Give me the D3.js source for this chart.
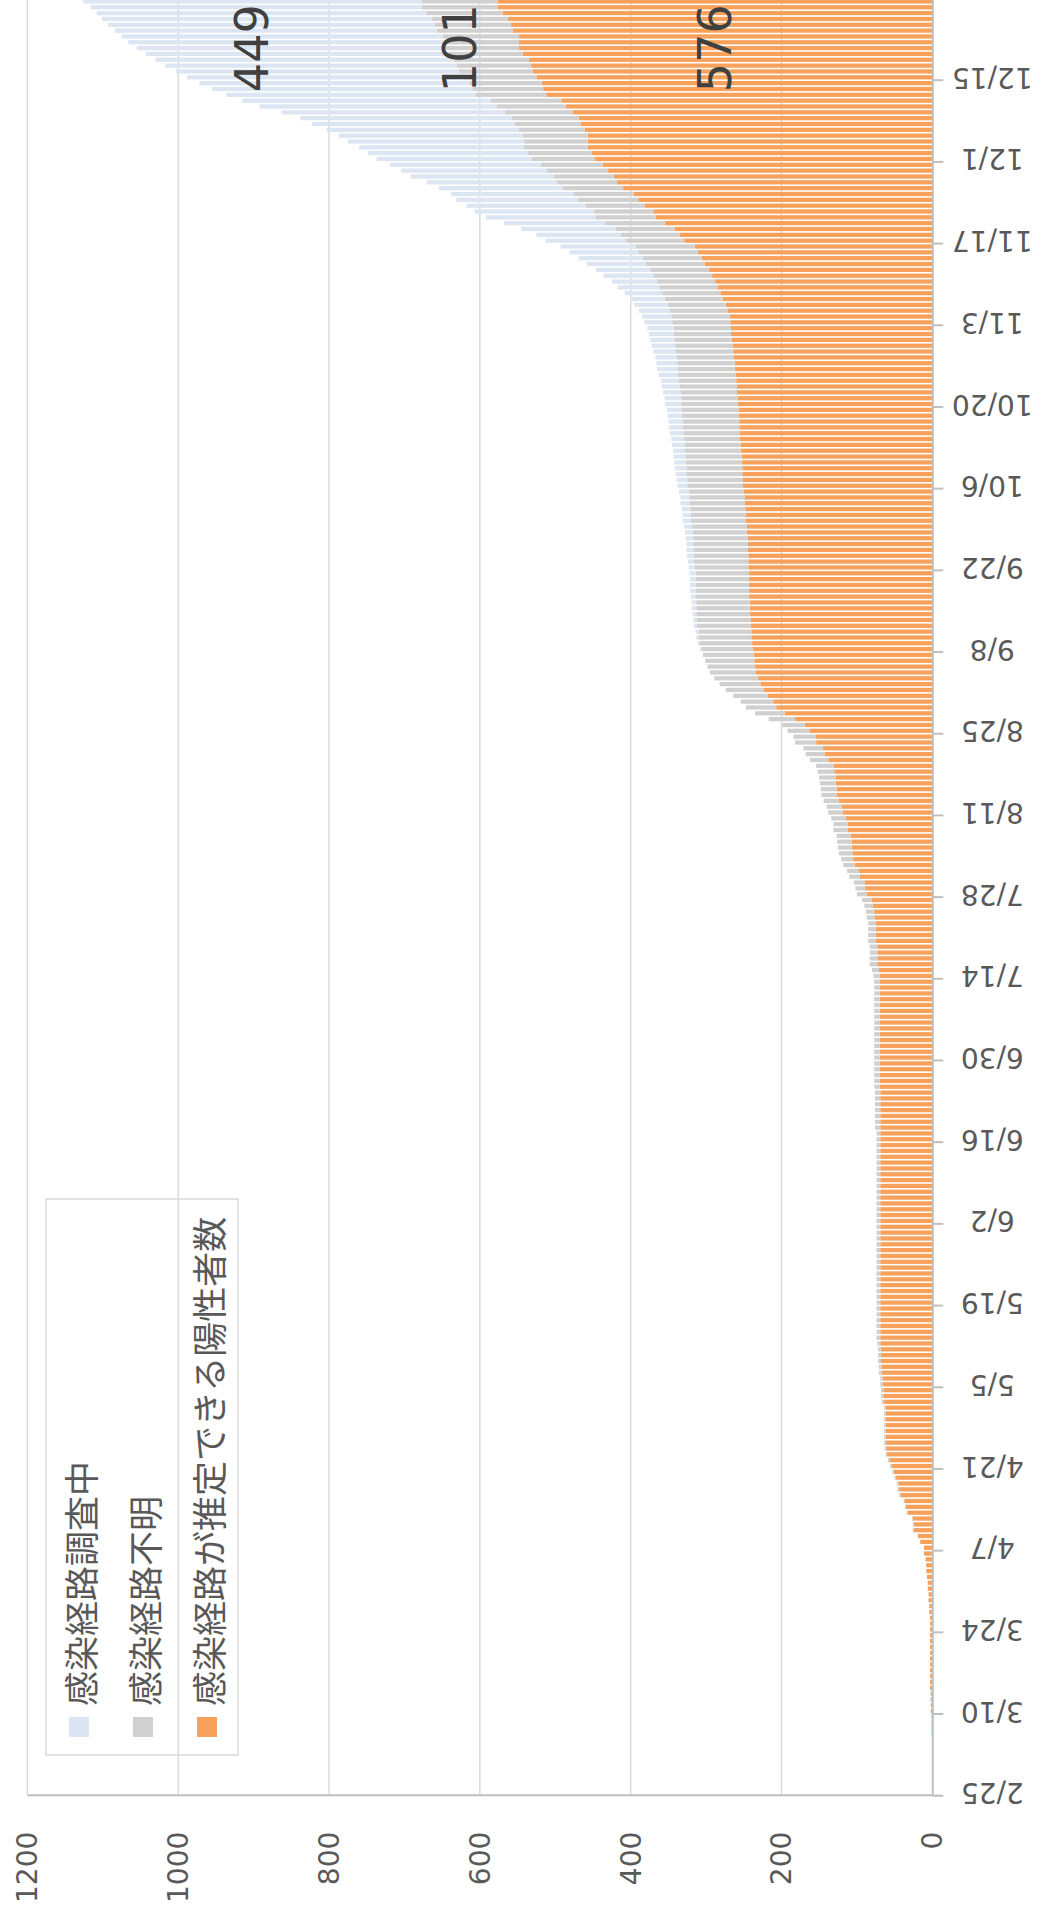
<!DOCTYPE html>
<html>
<head>
<meta charset="utf-8">
<script src="https://cdn.jsdelivr.net/npm/d3@7"></script>
<style>
  body { margin: 0; background: #fff; }
  svg { display: block; }
</style>
</head>
<body>
<svg id="chart"></svg>
<script>
// daily bars from 2/25 to 12/28, one row = two weeks
const firstDay = new Date(2020, 1, 25);
const dayAfterLast = new Date(2020, 11, 29);

const tickLabels = ["2/25", "3/10", "3/24", "4/7", "4/21", "5/5", "5/19", "6/2", "6/16", "6/30", "7/14",
                    "7/28", "8/11", "8/25", "9/8", "9/22", "10/6", "10/20", "11/3", "11/17", "12/1", "12/15"];
const valueTicks = [0, 200, 400, 600, 800, 1000, 1200];

// 感染経路が推定できる陽性者数
const estimated = [
  0,0,0,0,0,0,0,0,0,0,1,1,1,1,
  2,2,2,2,3,3,3,3,3,3,3,3,3,3,
  3,3,3,4,4,5,5,6,6,7,8,8,9,11,
  11,16,19,25,25,26,33,35,37,42,44,45,48,51,
  54,57,60,61,62,62,62,62,62,62,62,64,65,65,
  66,66,67,67,68,68,68,69,69,69,69,69,69,69,
  69,69,69,69,69,69,69,69,69,69,69,69,69,69,
  69,69,69,69,69,69,69,69,69,69,69,69,69,69,
  69,69,69,69,69,69,69,69,69,70,70,70,70,70,
  70,70,70,70,70,70,70,70,70,70,70,70,70,70,
  70,71,73,73,73,73,75,75,75,75,76,77,79,80,
  87,89,90,96,98,103,105,106,107,107,108,112,112,115,
  119,120,124,127,127,128,128,130,131,138,143,145,154,155,
  163,169,182,196,207,211,218,224,228,231,234,235,236,237,
  238,239,240,240,241,241,242,242,242,243,243,243,243,243,
  244,244,244,245,245,245,246,246,247,247,248,249,249,250,
  251,251,252,252,253,253,254,254,255,255,256,256,257,257,
  258,258,259,259,260,261,262,262,263,264,265,266,267,267,
  268,269,271,274,278,281,285,288,292,296,302,306,311,315,
  329,335,342,355,367,370,381,390,396,410,418,422,430,437,
  448,452,457,457,457,461,466,469,477,486,492,512,516,518,
  525,530,532,535,543,548,548,548,556,559,563,570,576,576
];

// 感染経路不明
const unknownRoute = [
  0,0,0,0,0,0,0,0,0,0,0,0,0,0,
  0,0,0,0,0,0,0,0,0,0,0,0,0,0,
  0,0,0,0,0,0,0,0,0,0,0,0,0,0,
  0,0,0,1,1,1,1,1,1,2,2,2,2,2,
  2,2,2,2,2,2,2,2,2,2,2,3,3,3,
  3,3,4,4,4,4,4,4,5,5,5,5,5,5,
  5,5,5,5,5,5,5,5,5,5,5,5,5,5,
  5,5,5,5,5,5,5,5,5,5,5,5,5,5,
  5,5,7,7,7,7,7,7,7,7,7,7,7,7,
  7,7,7,7,7,7,7,7,7,7,7,7,7,7,
  8,9,10,10,10,10,10,10,10,10,11,11,11,13,
  13,13,14,14,15,15,16,18,18,19,19,19,19,19,
  19,20,20,20,21,21,22,22,23,24,25,26,28,29,
  29,30,35,39,40,43,46,50,54,58,61,63,65,67,
  68,69,70,70,71,71,71,71,71,71,71,71,71,71,
  71,72,72,72,72,72,72,73,73,73,73,73,73,73,
  74,74,74,74,74,74,74,74,74,75,75,75,75,75,
  75,75,75,76,76,76,76,76,76,76,76,76,76,76,
  77,77,77,77,77,77,77,77,78,78,78,78,78,78,
  78,78,78,79,79,79,79,80,80,80,80,80,81,82,
  83,84,85,85,86,87,88,89,90,92,94,94,94,96,
  96,98,99,99,99,100,100,101,101,101,101,101,101,101
];

// 感染経路調査中
const investigating = [
  0,0,0,0,0,0,0,0,0,0,0,0,0,0,
  0,0,0,0,0,0,0,0,0,0,0,0,0,0,
  0,0,0,0,0,0,0,0,0,0,0,0,0,0,
  0,0,0,0,0,0,0,0,0,0,0,0,0,0,
  0,0,0,0,0,0,0,0,0,0,0,0,0,0,
  0,0,0,0,0,0,0,0,0,0,0,0,0,0,
  0,0,0,0,0,0,0,0,0,0,0,0,0,0,
  0,0,0,0,0,0,0,0,0,0,0,0,0,0,
  0,0,0,0,0,0,0,0,0,0,0,0,0,0,
  0,0,0,0,0,0,0,0,0,0,0,0,0,0,
  0,0,0,0,0,0,0,0,0,0,0,0,0,0,
  0,0,0,0,0,0,0,0,0,0,0,0,0,0,
  0,0,0,0,0,0,0,0,0,0,0,0,0,0,
  0,0,0,0,0,0,0,0,0,0,0,0,0,0,
  2,3,3,4,4,5,5,6,6,6,7,7,7,8,
  8,8,9,9,9,10,10,10,11,11,11,12,12,13,
  13,14,14,15,15,16,16,17,17,18,18,19,19,20,
  21,22,23,24,24,26,27,28,28,30,31,32,33,35,
  37,39,41,44,46,50,55,60,66,72,78,85,92,100,
  106,112,125,134,146,158,158,161,162,164,172,190,193,200,
  206,212,218,233,244,255,269,280,296,314,329,330,345,358,
  367,375,386,396,401,407,418,426,427,433,437,437,439,449
];

const seriesKeys = ["estimated", "unknown", "investigating"];
const seriesNames = {
  estimated: "感染経路が推定できる陽性者数",
  unknown: "感染経路不明",
  investigating: "感染経路調査中"
};
const color = d3.scaleOrdinal()
  .domain(seriesKeys)
  .range(["#f8a15b", "#d0d0d0", "#dce5f2"]);

// the chart is laid out the normal way (dates across, counts up)
// and then the whole thing is turned a quarter turn to the left
const W = 1919, H = 1050;
const plotLeft = 123.3, plotBottom = 932.3, plotTop = 27.4, dayStep = 5.835;
const tickFont = "DejaVu Sans, Verdana, sans-serif";
const textColor = "#595959";

const svg = d3.select("#chart").attr("width", H).attr("height", W);
const g = svg.append("g").attr("transform", `translate(0,${W}) rotate(-90)`);

const dates = d3.timeDay.range(firstDay, dayAfterLast);
const fmt = d3.timeFormat("%-m/%-d");

const rows = dates.map((d, i) => ({
  date: d,
  estimated: estimated[i],
  unknown: unknownRoute[i],
  investigating: investigating[i]
}));

const stacked = d3.stack().keys(seriesKeys)(rows);

const x = d3.scaleBand()
  .domain(dates)
  .range([plotLeft, plotLeft + dates.length * dayStep])
  .paddingInner(0.27)
  .paddingOuter(0.135);

const y = d3.scaleLinear()
  .domain([0, 1200])
  .range([plotBottom, plotTop]);

// gridlines
g.append("g")
  .selectAll("line")
  .data(valueTicks.filter(v => v > 0))
  .join("line")
  .attr("x1", plotLeft)
  .attr("x2", W + 2)
  .attr("y1", d => y(d))
  .attr("y2", d => y(d))
  .attr("stroke", "#d9d9d9")
  .attr("stroke-width", 1.4);

// bars
g.append("g")
  .selectAll("g")
  .data(stacked)
  .join("g")
  .attr("fill", d => color(d.key))
  .selectAll("rect")
  .data(d => d)
  .join("rect")
  .attr("x", d => x(d.data.date))
  .attr("y", d => y(d[1]))
  .attr("width", x.bandwidth())
  .attr("height", d => y(d[0]) - y(d[1]));

// date axis
const tickDates = dates.filter(d => tickLabels.includes(fmt(d)));
const xAxis = g.append("g")
  .attr("transform", `translate(0,${plotBottom})`)
  .call(d3.axisBottom(x).tickValues(tickDates).tickFormat(fmt).tickSize(11).tickSizeOuter(0));
xAxis.select(".domain").attr("stroke", "#bfbfbf").attr("stroke-width", 2);
xAxis.selectAll(".tick line")
  .attr("stroke", "#bfbfbf")
  .attr("stroke-width", 2)
  .attr("transform", `translate(${-x.step() / 2},0)`);
xAxis.selectAll(".tick text")
  .attr("y", 0)
  .attr("dy", null)
  .attr("transform", "translate(0,60) rotate(-90)")
  .attr("text-anchor", "middle")
  .attr("dominant-baseline", "central")
  .attr("fill", textColor)
  .style("font", `28px ${tickFont}`);

// value axis
const yAxis = g.append("g")
  .attr("transform", `translate(${plotLeft},0)`)
  .call(d3.axisLeft(y).tickValues(valueTicks).tickFormat(d3.format("d"))
    .tickSize(0).tickSizeOuter(0).tickPadding(36));
yAxis.select(".domain").attr("stroke", "#bfbfbf").attr("stroke-width", 2);
yAxis.selectAll(".tick text")
  .attr("dy", null)
  .attr("dominant-baseline", "central")
  .attr("fill", textColor)
  .style("font", `28px ${tickFont}`);

// value labels on the last bar
const lastSeg = stacked.map(s => ({ key: s.key, seg: s[s.length - 1] }));
g.append("g")
  .selectAll("text")
  .data(lastSeg)
  .join("text")
  .attr("x", x(dates[dates.length - 1]) + x.bandwidth() - 5)
  .attr("y", d => y((d.seg[0] + d.seg[1]) / 2))
  .attr("text-anchor", "end")
  .attr("dominant-baseline", "central")
  .attr("fill", "#404040")
  .style("font", `46px ${tickFont}`)
  .text(d => d.seg.data[d.key]);

// legend
const legendOrder = ["investigating", "unknown", "estimated"];
const legend = g.append("g");
legend.append("rect")
  .attr("x", 164).attr("y", 46)
  .attr("width", 556).attr("height", 192)
  .attr("fill", "none")
  .attr("stroke", "#d9d9d9")
  .attr("stroke-width", 1.5);
const item = legend.selectAll(".item")
  .data(legendOrder)
  .join("g")
  .attr("class", "item")
  .attr("transform", (d, i) => `translate(182,${79 + i * 64})`);
item.append("rect")
  .attr("y", -10)
  .attr("width", 20).attr("height", 20)
  .attr("fill", d => color(d));
item.append("text")
  .attr("x", 31)
  .attr("dominant-baseline", "central")
  .attr("fill", textColor)
  .style("font", "35px 'Noto Sans CJK JP', sans-serif")
  .text(d => seriesNames[d]);
</script>
</body>
</html>
